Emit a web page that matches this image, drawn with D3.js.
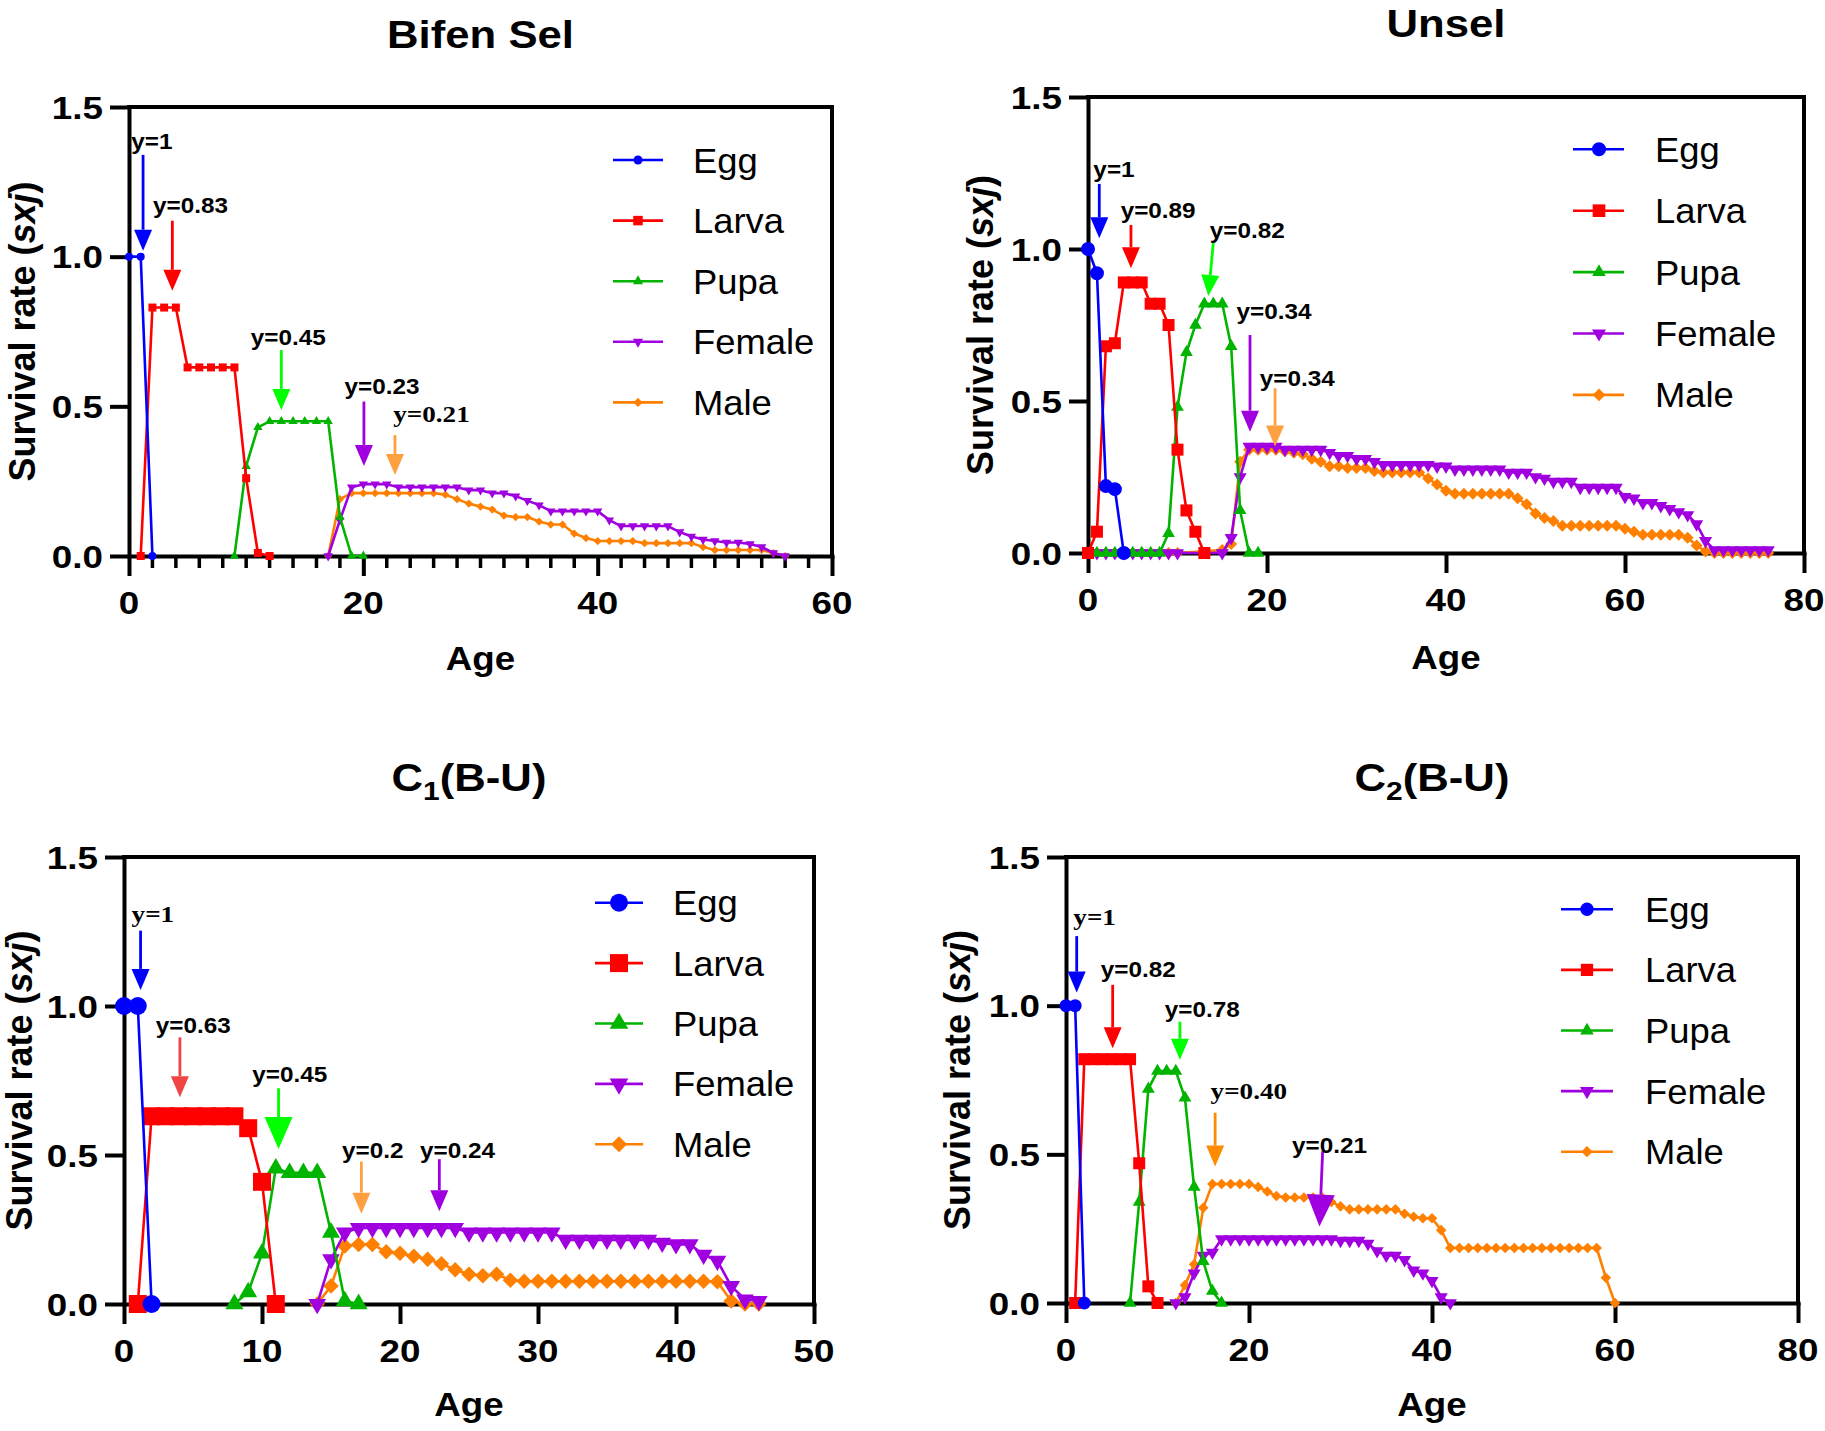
<!DOCTYPE html>
<html>
<head>
<meta charset="utf-8">
<script src="https://cdn.jsdelivr.net/npm/d3@7"></script>
<style>
  body { margin: 0; background: #fff; }
  svg { display: block; }
</style>
</head>
<body>
<script>
var W = 1825, H = 1431;

// ---- data: age-stage survival rate (sxj); each series starts at the age in *Start, null = no point
var stages = ["Egg", "Larva", "Pupa", "Female", "Male"];
var yTickValues = [0, 0.5, 1.0, 1.5];
var xTicksBifen = [0, 20, 40, 60];
var xTicksUnsel = [0, 20, 40, 60, 80];
var xTicksC1 = [0, 10, 20, 30, 40, 50];
var xTicksC2 = [0, 20, 40, 60, 80];

// Bifen Sel
var bifenStart = [0, 1, 9, 17, 17];
var bifenEgg = [1, 1, 0];
var bifenLarva = [0, 0.83, 0.83, 0.83, 0.63, 0.63, 0.63, 0.63, 0.63, 0.26, 0.01, 0];
var bifenPupa = [0, 0.30, 0.43, 0.45, 0.45, 0.45, 0.45, 0.45, 0.45, 0.13, 0, 0];
var bifenFemale = [0, 0.12, 0.23, 0.24, 0.24, 0.24, 0.23, 0.23, 0.23, 0.23, 0.23, 0.23, 0.22, 0.22,
  0.21, 0.21, 0.20, 0.185, 0.17, 0.15, 0.15, 0.15, 0.15, 0.15, 0.12, 0.10, 0.10, 0.10, 0.10, 0.10,
  0.08, 0.065, 0.055, 0.05, 0.045, 0.045, 0.04, 0.03, 0.01, 0];
var bifenMale = [0, 0.19, 0.21, 0.21, 0.21, 0.21, 0.21, 0.21, 0.21, 0.21, 0.205, 0.19, 0.175, 0.165,
  0.155, 0.135, 0.13, 0.13, 0.115, 0.105, 0.105, 0.075, 0.06, 0.05, 0.05, 0.05, 0.05, 0.043, 0.043,
  0.043, 0.043, 0.043, 0.03, 0.02, 0.02, 0.02, 0.02, 0.02, 0.01, 0];

// Unsel
var unselStart = [0, 0, 1, 1, 1];
var unselEgg = [1, 0.92, 0.22, 0.21, 0];
var unselLarva = [0, 0.07, 0.68, 0.69, 0.89, 0.89, 0.89, 0.82, 0.82, 0.75, 0.34, 0.14, 0.07, 0];
var unselPupa = [0, 0, 0, 0, 0, 0, 0, 0, 0.065, 0.48, 0.66, 0.75, 0.82, 0.82, 0.82, 0.68, 0.14, 0, 0];
var unselFemale = [0, 0, 0, 0, 0, 0, 0, 0, 0, 0, null, null, null, null,
  0, 0.05, 0.25, 0.35, 0.35, 0.35, 0.35, 0.34, 0.34, 0.34, 0.34, 0.34, 0.33, 0.32, 0.32, 0.31, 0.31,
  0.30, 0.29, 0.29, 0.29, 0.29, 0.29, 0.29, 0.285, 0.285, 0.275, 0.275, 0.275, 0.275, 0.275, 0.275,
  0.265, 0.265, 0.265, 0.25, 0.245, 0.235, 0.235, 0.235, 0.215, 0.215, 0.215, 0.215, 0.215,
  0.185, 0.18, 0.165, 0.165, 0.155, 0.145, 0.135, 0.125, 0.095, 0.04,
  0.01, 0.01, 0.01, 0.01, 0.01, 0.01, 0.01];
var unselMale = [0, 0, 0, 0, 0, 0, 0, 0, 0, 0, null, null, null, null,
  0.01, 0.03, 0.30, 0.34, 0.34, 0.34, 0.34, 0.335, 0.33, 0.325, 0.31, 0.30, 0.285, 0.285, 0.28, 0.28,
  0.28, 0.27, 0.265, 0.265, 0.265, 0.265, 0.265, 0.245, 0.225, 0.205,
  0.195, 0.195, 0.195, 0.195, 0.195, 0.195, 0.195, 0.18, 0.16, 0.13, 0.115, 0.105,
  0.09, 0.09, 0.09, 0.09, 0.09, 0.09, 0.09, 0.08, 0.07, 0.06, 0.06, 0.06, 0.06, 0.06,
  0.05, 0.025, 0.005, 0, 0, 0, 0, 0, 0, 0];

// C1(B-U)
var c1Start = [0, 1, 8, 14, 14];
var c1Egg = [1, 1, 0];
var c1Larva = [0, 0.63, 0.63, 0.63, 0.63, 0.63, 0.63, 0.63, 0.59, 0.41, 0];
var c1Pupa = [0, 0.04, 0.17, 0.455, 0.44, 0.44, 0.44, 0.24, 0.01, 0];
var c1Female = [0, 0.15, 0.24, 0.255, 0.255, 0.255, 0.255, 0.255, 0.255, 0.255, 0.255,
  0.24, 0.24, 0.24, 0.24, 0.24, 0.24, 0.24, 0.215, 0.215, 0.215, 0.215, 0.215, 0.215, 0.215,
  0.205, 0.20, 0.20, 0.165, 0.145, 0.06, 0.015, 0.01];
var c1Male = [0, 0.06, 0.195, 0.20, 0.20, 0.175, 0.17, 0.16, 0.15, 0.135, 0.115, 0.10, 0.095, 0.10,
  0.08, 0.076, 0.076, 0.076, 0.076, 0.076, 0.076, 0.076, 0.076, 0.076, 0.076, 0.076, 0.076, 0.076,
  0.076, 0.075, 0.01, 0, 0];

// C2(B-U)
var c2Start = [0, 1, 7, 12, 12];
var c2Egg = [1, 1, 0];
var c2Larva = [0, 0.82, 0.82, 0.82, 0.82, 0.82, 0.82, 0.47, 0.056, 0];
var c2Pupa = [0, 0.34, 0.72, 0.78, 0.78, 0.78, 0.69, 0.39, 0.14, 0.04, 0];
var c2Female = [0, 0.02, 0.10, 0.16, 0.17, 0.215, 0.215, 0.215, 0.215, 0.215, 0.215, 0.215, 0.215,
  0.215, 0.215, 0.215, 0.215, 0.215, 0.21, 0.21, 0.21, 0.20, 0.175, 0.16, 0.16, 0.145, 0.11, 0.10,
  0.075, 0.02, 0];
var c2Male = [0, 0.06, 0.13, 0.32, 0.40, 0.40, 0.40, 0.40, 0.40, 0.39, 0.375, 0.36, 0.355, 0.355,
  0.355, 0.355, 0.355, 0.34, 0.325, 0.315, 0.315, 0.315, 0.315, 0.315, 0.315, 0.30, 0.29, 0.285,
  0.285, 0.245, 0.185, 0.185, 0.185, 0.185, 0.185, 0.185, 0.185, 0.185, 0.185, 0.185, 0.185,
  0.185, 0.185, 0.185, 0.185, 0.185, 0.185, 0.085, 0];

// ---- look
var SANS = "'Liberation Sans', Arial, Helvetica, sans-serif";
var SERIF = "'Liberation Serif', 'Times New Roman', serif";
var colors = ["#0000ff", "#ff0000", "#00b400", "#a000e0", "#ff8000"];
var shapes = [d3.symbolCircle, d3.symbolSquare, d3.symbolTriangle, d3.symbolTriangle, d3.symbolSquare];
var rotations = [0, 0, 0, 180, 45];
var drawOrder = [4, 3, 2, 1, 0];
var SX = 1.15;   // text in the figure is a bit wide

var panels = [
  {
    title: ["Bifen Sel"], titleY: 48, start: bifenStart,
    series: [bifenEgg, bifenLarva, bifenPupa, bifenFemale, bifenMale],
    xMax: 60, xTicks: xTicksBifen, minor: 2,
    box: { l: 129, r: 832, t: 107, b: 556 }, ylabX: 35, ageY: 670,
    sizes: [50, 64, 38, 38, 34], legSizes: [64, 90, 45, 45, 42],
    legend: { x1: 613, x2: 663, mx: 638, tx: 693, y0: 160, dy: 60.6 },
    notes: [
      { t: "y=1", c: "#0000ff", lx: 0.2, ly: 1.36, x0: 1.2, y0: 1.34, x1: 1.2, y1: 1.02 },
      { t: "y=0.83", c: "#ff0000", lx: 2.05, ly: 1.147, x0: 3.7, y0: 1.12, x1: 3.7, y1: 0.886 },
      { t: "y=0.45", c: "#00ff00", lx: 10.4, ly: 0.705, x0: 13, y0: 0.688, x1: 13, y1: 0.488 },
      { t: "y=0.23", c: "#a000e0", lx: 18.4, ly: 0.541, x0: 20.05, y0: 0.516, x1: 20.05, y1: 0.301 },
      { t: "y=0.21", c: "#ffa040", lx: 22.55, ly: 0.449, x0: 22.7, y0: 0.404, x1: 22.7, y1: 0.271, serif: true }
    ]
  },
  {
    title: ["Unsel"], titleY: 37, start: unselStart,
    series: [unselEgg, unselLarva, unselPupa, unselFemale, unselMale],
    xMax: 80, xTicks: xTicksUnsel, minor: 0,
    box: { l: 1088, r: 1804, t: 97, b: 553 }, ylabX: 993, ageY: 669,
    sizes: [154, 144, 70, 75, 72], legSizes: [154, 160, 80, 85, 80],
    legend: { x1: 1573, x2: 1624, mx: 1599, tx: 1655, y0: 149.3, dy: 61.4 },
    notes: [
      { t: "y=1", c: "#0000ff", lx: 0.6, ly: 1.236, x0: 1.26, y0: 1.214, x1: 1.26, y1: 1.035 },
      { t: "y=0.89", c: "#ff0000", lx: 3.65, ly: 1.101, x0: 4.8, y0: 1.079, x1: 4.8, y1: 0.937 },
      { t: "y=0.82", c: "#00ff00", lx: 13.6, ly: 1.035, x0: 14.0, y0: 1.019, x1: 13.44, y1: 0.845 },
      { t: "y=0.34", c: "#a000e0", lx: 16.6, ly: 0.769, x0: 18.1, y0: 0.717, x1: 18.1, y1: 0.399 },
      { t: "y=0.34", c: "#ffa040", lx: 19.2, ly: 0.549, x0: 20.9, y0: 0.542, x1: 20.9, y1: 0.35 }
    ]
  },
  {
    title: ["C", "1", "(B-U)"], titleY: 791, start: c1Start,
    series: [c1Egg, c1Larva, c1Pupa, c1Female, c1Male],
    xMax: 50, xTicks: xTicksC1, minor: 0,
    box: { l: 124, r: 814, t: 857, b: 1304 }, ylabX: 32, ageY: 1416,
    sizes: [254, 324, 140, 135, 120], legSizes: [254, 324, 150, 150, 130],
    legend: { x1: 595, x2: 643, mx: 619, tx: 673, y0: 902.7, dy: 60.4 },
    notes: [
      { t: "y=1", c: "#0000ff", lx: 0.55, ly: 1.283, x0: 1.2, y0: 1.253, x1: 1.2, y1: 1.054, serif: true },
      { t: "y=0.63", c: "#f04545", lx: 2.3, ly: 0.911, x0: 4.05, y0: 0.895, x1: 4.05, y1: 0.694 },
      { t: "y=0.45", c: "#00ff00", lx: 9.3, ly: 0.746, x0: 11.2, y0: 0.724, x1: 11.2, y1: 0.52, big: true },
      { t: "y=0.2", c: "#ffa040", lx: 15.8, ly: 0.49, x0: 17.2, y0: 0.478, x1: 17.2, y1: 0.303 },
      { t: "y=0.24", c: "#a000e0", lx: 21.45, ly: 0.49, x0: 22.85, y0: 0.486, x1: 22.85, y1: 0.311 }
    ]
  },
  {
    title: ["C", "2", "(B-U)"], titleY: 791, start: c2Start,
    series: [c2Egg, c2Larva, c2Pupa, c2Female, c2Male],
    xMax: 80, xTicks: xTicksC2, minor: 0,
    box: { l: 1066, r: 1798, t: 857, b: 1303 }, ylabX: 970, ageY: 1416,
    sizes: [133, 144, 72, 75, 56], legSizes: [140, 150, 80, 85, 64],
    legend: { x1: 1561, x2: 1613, mx: 1587, tx: 1645, y0: 909.3, dy: 60.6 },
    notes: [
      { t: "y=1", c: "#0000ff", lx: 0.8, ly: 1.271, x0: 1.17, y0: 1.234, x1: 1.17, y1: 1.044, serif: true },
      { t: "y=0.82", c: "#ff0000", lx: 3.8, ly: 1.095, x0: 5.1, y0: 1.07, x1: 5.1, y1: 0.857 },
      { t: "y=0.78", c: "#00ff00", lx: 10.8, ly: 0.961, x0: 12.45, y0: 0.946, x1: 12.45, y1: 0.818 },
      { t: "y=0.40", c: "#ff8c00", lx: 15.8, ly: 0.685, x0: 16.3, y0: 0.64, x1: 16.3, y1: 0.459, serif: true },
      { t: "y=0.21", c: "#a000e0", lx: 24.7, ly: 0.506, x0: 28.05, y0: 0.51, x1: 27.7, y1: 0.257, big: true }
    ]
  }
];

var svg = d3.select("body").append("svg").attr("width", W).attr("height", H);
svg.append("rect").attr("width", W).attr("height", H).attr("fill", "#fff");

function txt(g, x, y, str, o) {
  return g.append("text")
    .attr("transform", "translate(" + x + "," + y + ") scale(" + (o.sx || 1) + ",1)")
    .attr("font-family", o.family || SANS)
    .attr("font-size", o.size)
    .attr("font-weight", o.weight || "bold")
    .attr("text-anchor", o.anchor || "start")
    .attr("fill", o.fill || "#000")
    .text(str);
}

function symbolPath(i, size) {
  return d3.symbol().type(shapes[i]).size(size)();
}

function drawPanel(p) {
  var g = svg.append("g");
  var x = d3.scaleLinear().domain([0, p.xMax]).range([p.box.l, p.box.r]);
  var y = d3.scaleLinear().domain([0, 1.5]).range([p.box.b, p.box.t]);

  // frame top / right
  g.append("line").attr("x1", x(0)).attr("x2", x(p.xMax)).attr("y1", y(1.5)).attr("y2", y(1.5))
    .attr("stroke", "#000").attr("stroke-width", 4).attr("stroke-linecap", "square");
  g.append("line").attr("x1", x(p.xMax)).attr("x2", x(p.xMax)).attr("y1", y(1.5)).attr("y2", y(0))
    .attr("stroke", "#000").attr("stroke-width", 4).attr("stroke-linecap", "square");

  // axes
  var gx = g.append("g").attr("transform", "translate(0," + y(0) + ")")
    .call(d3.axisBottom(x).tickValues(p.xTicks).tickSize(20).tickSizeOuter(0).tickFormat(""));
  var gy = g.append("g").attr("transform", "translate(" + x(0) + ",0)")
    .call(d3.axisLeft(y).tickValues(yTickValues).tickSize(19).tickSizeOuter(0).tickFormat(""));
  [gx, gy].forEach(function (a) {
    a.select(".domain").attr("stroke-width", 4).attr("stroke-linecap", "square");
    a.selectAll(".tick line").attr("stroke-width", 4);
  });
  if (p.minor) {
    var minors = d3.range(0, p.xMax + 0.001, p.minor).filter(function (v) { return p.xTicks.indexOf(v) < 0; });
    g.selectAll("line.minor").data(minors).join("line").attr("class", "minor")
      .attr("x1", function (d) { return x(d); }).attr("x2", function (d) { return x(d); })
      .attr("y1", y(0)).attr("y2", y(0) + 12)
      .attr("stroke", "#000").attr("stroke-width", 3.5);
  }

  // tick labels
  p.xTicks.forEach(function (v) {
    txt(g, x(v), y(0) + 58, String(v), { size: 32, anchor: "middle", sx: SX });
  });
  yTickValues.forEach(function (v) {
    txt(g, x(0) - 26, y(v) + 11.5, d3.format(".1f")(v), { size: 32, anchor: "end", sx: SX });
  });

  // axis titles
  txt(g, (p.box.l + p.box.r) / 2, p.ageY, "Age", { size: 34, anchor: "middle", sx: 1.08 });
  var yl = g.append("text")
    .attr("transform", "translate(" + p.ylabX + "," + (p.box.t + p.box.b) / 2 + ") rotate(-90)")
    .attr("font-family", SANS).attr("font-size", 36).attr("font-weight", "bold")
    .attr("text-anchor", "middle");
  yl.append("tspan").text("Survival rate (");
  yl.append("tspan").attr("font-style", "italic").text("sxj");
  yl.append("tspan").text(")");

  // panel title
  var tt = txt(g, (p.box.l + p.box.r) / 2, p.titleY, "", { size: 38, anchor: "middle", sx: SX });
  tt.append("tspan").text(p.title[0]);
  if (p.title.length > 1) {
    tt.append("tspan").attr("font-size", 26).attr("dy", 9).text(p.title[1]);
    tt.append("tspan").attr("dy", -9).text(p.title[2]);
  }

  // series
  var line = d3.line().x(function (d) { return x(d[0]); }).y(function (d) { return y(d[1]); });
  drawOrder.forEach(function (i) {
    var pts = [];
    p.series[i].forEach(function (v, k) { if (v !== null) pts.push([p.start[i] + k, v]); });
    var sg = g.append("g");
    sg.append("path").attr("d", line(pts)).attr("fill", "none")
      .attr("stroke", colors[i]).attr("stroke-width", 2.6).attr("stroke-linejoin", "round");
    sg.selectAll("path.mk").data(pts).join("path").attr("class", "mk")
      .attr("transform", function (d) { return "translate(" + x(d[0]) + "," + y(d[1]) + ") rotate(" + rotations[i] + ")"; })
      .attr("d", symbolPath(i, p.sizes[i]))
      .attr("fill", colors[i]);
  });

  // legend
  stages.forEach(function (s, i) {
    var ly = p.legend.y0 + i * p.legend.dy;
    g.append("line").attr("x1", p.legend.x1).attr("x2", p.legend.x2).attr("y1", ly).attr("y2", ly)
      .attr("stroke", colors[i]).attr("stroke-width", 2.6);
    g.append("path").attr("d", symbolPath(i, p.legSizes[i]))
      .attr("transform", "translate(" + p.legend.mx + "," + ly + ") rotate(" + rotations[i] + ")")
      .attr("fill", colors[i]);
    txt(g, p.legend.tx, ly + 12.5, s, { size: 35, weight: "normal", sx: 1.04 });
  });

  // arrow annotations
  p.notes.forEach(function (n) {
    var hw = n.big ? 28 : 18, hl = n.big ? 32 : 21;
    var ax0 = x(n.x0), ay0 = y(n.y0), ax1 = x(n.x1), ay1 = y(n.y1);
    var dx = ax1 - ax0, dy = ay1 - ay0, len = Math.sqrt(dx * dx + dy * dy);
    var ux = dx / len, uy = dy / len;
    var bx = ax1 - ux * hl, by = ay1 - uy * hl;
    g.append("line").attr("x1", ax0).attr("y1", ay0).attr("x2", bx).attr("y2", by)
      .attr("stroke", n.c).attr("stroke-width", 2.8);
    g.append("path")
      .attr("d", "M" + ax1 + "," + ay1 +
        "L" + (bx - uy * hw / 2) + "," + (by + ux * hw / 2) +
        "L" + (bx + uy * hw / 2) + "," + (by - ux * hw / 2) + "Z")
      .attr("fill", n.c);
    txt(g, x(n.lx), y(n.ly), n.t, n.serif
      ? { size: 23, family: SERIF, sx: 1.18 }
      : { size: 22.5, sx: 1.08 });
  });
}

panels.forEach(drawPanel);
</script>
</body>
</html>
